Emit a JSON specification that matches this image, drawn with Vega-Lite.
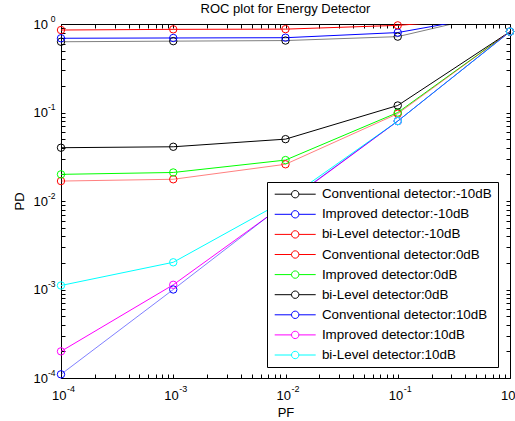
{
  "$schema": "https://vega.github.io/schema/vega-lite/v6.json",
  "width": 449,
  "height": 354,
  "autosize": {"type": "none"},
  "padding": {"left": 61, "top": 24, "right": 5, "bottom": 43},
  "background": "white",
  "title": {"text": "ROC plot for Energy Detector", "font": "Liberation Sans", "fontSize": 13, "fontWeight": "normal", "color": "black", "baseline": "alphabetic", "offset": -12, "anchor": "middle"},
  "config": {
    "view": {"stroke": "black", "strokeWidth": 1},
    "axis": {"grid": false, "domain": false, "tickColor": "black", "labelColor": "black", "titleColor": "black", "labelFont": "Liberation Sans", "titleFont": "Liberation Sans", "labelFontSize": 13, "titleFontSize": 13, "titleFontWeight": "normal", "labelOverlap": false, "labelFlush": false, "labelBound": false},
    "legend": {"labelFont": "Liberation Sans", "labelFontSize": 13.4, "labelColor": "black"}
  },
  "data": {"values": [
    {"s": "Conventional detector:-10dB", "pf": 0.0001, "pd": 0.63},
    {"s": "Conventional detector:-10dB", "pf": 0.001, "pd": 0.64},
    {"s": "Conventional detector:-10dB", "pf": 0.01, "pd": 0.65},
    {"s": "Conventional detector:-10dB", "pf": 0.1, "pd": 0.72},
    {"s": "Conventional detector:-10dB", "pf": 1, "pd": 1.42},
    {"s": "Improved detector:-10dB", "pf": 0.0001, "pd": 0.69},
    {"s": "Improved detector:-10dB", "pf": 0.001, "pd": 0.695},
    {"s": "Improved detector:-10dB", "pf": 0.01, "pd": 0.70},
    {"s": "Improved detector:-10dB", "pf": 0.1, "pd": 0.80},
    {"s": "Improved detector:-10dB", "pf": 1, "pd": 1.35},
    {"s": "bi-Level detector:-10dB", "pf": 0.0001, "pd": 0.855},
    {"s": "bi-Level detector:-10dB", "pf": 0.001, "pd": 0.87},
    {"s": "bi-Level detector:-10dB", "pf": 0.01, "pd": 0.875},
    {"s": "bi-Level detector:-10dB", "pf": 0.1, "pd": 0.965},
    {"s": "bi-Level detector:-10dB", "pf": 1, "pd": 1.2},
    {"s": "Conventional detector:0dB", "pf": 0.0001, "pd": 0.0168},
    {"s": "Conventional detector:0dB", "pf": 0.001, "pd": 0.0176},
    {"s": "Conventional detector:0dB", "pf": 0.01, "pd": 0.026},
    {"s": "Conventional detector:0dB", "pf": 0.1, "pd": 0.097},
    {"s": "Conventional detector:0dB", "pf": 1, "pd": 0.82},
    {"s": "Improved detector:0dB", "pf": 0.0001, "pd": 0.020},
    {"s": "Improved detector:0dB", "pf": 0.001, "pd": 0.021},
    {"s": "Improved detector:0dB", "pf": 0.01, "pd": 0.029},
    {"s": "Improved detector:0dB", "pf": 0.1, "pd": 0.10},
    {"s": "Improved detector:0dB", "pf": 1, "pd": 0.82},
    {"s": "bi-Level detector:0dB", "pf": 0.0001, "pd": 0.040},
    {"s": "bi-Level detector:0dB", "pf": 0.001, "pd": 0.041},
    {"s": "bi-Level detector:0dB", "pf": 0.01, "pd": 0.050},
    {"s": "bi-Level detector:0dB", "pf": 0.1, "pd": 0.12},
    {"s": "bi-Level detector:0dB", "pf": 1, "pd": 0.82},
    {"s": "Conventional detector:10dB", "pf": 0.0001, "pd": 0.00011},
    {"s": "Conventional detector:10dB", "pf": 0.001, "pd": 0.001},
    {"s": "Conventional detector:10dB", "pf": 0.01, "pd": 0.0095},
    {"s": "Conventional detector:10dB", "pf": 0.1, "pd": 0.08},
    {"s": "Conventional detector:10dB", "pf": 1, "pd": 0.82},
    {"s": "Improved detector:10dB", "pf": 0.0001, "pd": 0.0002},
    {"s": "Improved detector:10dB", "pf": 0.001, "pd": 0.00113},
    {"s": "Improved detector:10dB", "pf": 0.01, "pd": 0.0093},
    {"s": "Improved detector:10dB", "pf": 0.1, "pd": 0.08},
    {"s": "Improved detector:10dB", "pf": 1, "pd": 0.82},
    {"s": "bi-Level detector:10dB", "pf": 0.0001, "pd": 0.00111},
    {"s": "bi-Level detector:10dB", "pf": 0.001, "pd": 0.00203},
    {"s": "bi-Level detector:10dB", "pf": 0.01, "pd": 0.0102},
    {"s": "bi-Level detector:10dB", "pf": 0.1, "pd": 0.08},
    {"s": "bi-Level detector:10dB", "pf": 1, "pd": 0.82}
  ]},
  "resolve": {"axis": {"x": "independent", "y": "independent"}},
  "layer": [
    {
      "transform": [{"filter": "indexof(datum.s, 'Conventional') != 0"}],
      "mark": {"type": "line", "clip": true, "strokeWidth": 1},
      "encoding": {
        "x": {"field": "pf", "type": "quantitative", "title": "PF",
          "scale": {"type": "log", "domain": [0.0001, 1], "nice": false},
          "axis": {"orient": "bottom", "ticks": false,
            "values": [0.0001, 0.001, 0.01, 0.1, 1],
            "labelExpr": "'10'",
            "labelAlign": "right", "labelOffset": 5, "labelBaseline": "alphabetic", "labelPadding": 21,
            "titleBaseline": "alphabetic", "titleY": 38}},
        "y": {"field": "pd", "type": "quantitative", "title": "PD",
          "scale": {"type": "log", "domain": [0.0001, 1], "nice": false},
          "axis": {"orient": "left", "ticks": false,
            "values": [0.0001, 0.001, 0.01, 0.1, 1],
            "labelExpr": "'10'",
            "labelAlign": "right", "labelPadding": 13.5, "labelBaseline": "alphabetic", "labelOffset": 4.2,
            "titleX": -38, "titleY": 177, "titleBaseline": "alphabetic"}},
        "color": {"field": "s", "type": "nominal",
          "scale": {"domain": ["Conventional detector:-10dB","Improved detector:-10dB","bi-Level detector:-10dB","Conventional detector:0dB","Improved detector:0dB","bi-Level detector:0dB","Conventional detector:10dB","Improved detector:10dB","bi-Level detector:10dB"],
                    "range": ["#000000","#0000ff","#ff0000","#ff0000","#00ff00","#000000","#0000ff","#ff00ff","#00ffff"]},
          "legend": {"orient": "none", "legendX": 206, "legendY": 158, "title": null,
            "strokeColor": "black", "fillColor": "white", "padding": 5.5, "cornerRadius": 0,
            "symbolType": "M-4,0H-0.72M0.72,0H4M0.72,0A0.72,0.72 0 1,1 -0.72,0A0.72,0.72 0 1,1 0.72,0",
            "symbolSize": 105, "symbolStrokeWidth": 1, "symbolFillColor": "transparent", "symbolOpacity": 1,
            "symbolOffset": 16, "labelOffset": 20, "rowPadding": 5.1, "labelLimit": 400}}
      }
    },
    {
      "transform": [{"filter": "indexof(datum.s, 'Conventional') == 0"}],
      "mark": {"type": "line", "clip": true, "strokeWidth": 1, "strokeOpacity": 0.5},
      "encoding": {
        "x": {"field": "pf", "type": "quantitative",
          "scale": {"type": "log", "domain": [0.0001, 1], "nice": false},
          "axis": {"orient": "bottom", "title": null, "tickSize": -4,
            "values": [0.0001,0.0002,0.0003,0.0004,0.0005,0.0006,0.0007,0.0008,0.0009,0.001,0.002,0.003,0.004,0.005,0.006,0.007,0.008,0.009,0.01,0.02,0.03,0.04,0.05,0.06,0.07,0.08,0.09,0.1,0.2,0.3,0.4,0.5,0.6,0.7,0.8,0.9,1],
            "labelExpr": "datum.value == 1 ? '0' : datum.value == 0.1 ? '-1' : datum.value == 0.01 ? '-2' : datum.value == 0.001 ? '-3' : datum.value == 0.0001 ? '-4' : ''",
            "labelFontSize": 9, "labelAlign": "left", "labelOffset": 5.5, "labelBaseline": "alphabetic", "labelPadding": 17}},
        "y": {"field": "pd", "type": "quantitative",
          "scale": {"type": "log", "domain": [0.0001, 1], "nice": false},
          "axis": {"orient": "left", "title": null, "tickSize": -4,
            "values": [0.0001,0.0002,0.0003,0.0004,0.0005,0.0006,0.0007,0.0008,0.0009,0.001,0.002,0.003,0.004,0.005,0.006,0.007,0.008,0.009,0.01,0.02,0.03,0.04,0.05,0.06,0.07,0.08,0.09,0.1,0.2,0.3,0.4,0.5,0.6,0.7,0.8,0.9,1],
            "labelExpr": "datum.value == 1 ? '0' : datum.value == 0.1 ? '-1' : datum.value == 0.01 ? '-2' : datum.value == 0.001 ? '-3' : datum.value == 0.0001 ? '-4' : ''",
            "labelFontSize": 8.5, "labelAlign": "right", "labelPadding": 10, "labelBaseline": "alphabetic", "labelOffset": -3}},
        "color": {"field": "s", "type": "nominal",
          "scale": {"domain": ["Conventional detector:-10dB","Improved detector:-10dB","bi-Level detector:-10dB","Conventional detector:0dB","Improved detector:0dB","bi-Level detector:0dB","Conventional detector:10dB","Improved detector:10dB","bi-Level detector:10dB"],
                    "range": ["#000000","#0000ff","#ff0000","#ff0000","#00ff00","#000000","#0000ff","#ff00ff","#00ffff"]}}
      }
    },
    {
      "transform": [{"filter": "datum.pd <= 1"}],
      "mark": {"type": "point", "shape": "circle", "filled": false, "size": 55, "strokeWidth": 1, "opacity": 1},
      "encoding": {
        "x": {"field": "pf", "type": "quantitative",
          "scale": {"type": "log", "domain": [0.0001, 1], "nice": false},
          "axis": {"orient": "top", "labels": false, "title": null, "tickSize": -4,
            "values": [0.0001,0.0002,0.0003,0.0004,0.0005,0.0006,0.0007,0.0008,0.0009,0.001,0.002,0.003,0.004,0.005,0.006,0.007,0.008,0.009,0.01,0.02,0.03,0.04,0.05,0.06,0.07,0.08,0.09,0.1,0.2,0.3,0.4,0.5,0.6,0.7,0.8,0.9,1]}},
        "y": {"field": "pd", "type": "quantitative",
          "scale": {"type": "log", "domain": [0.0001, 1], "nice": false},
          "axis": {"orient": "right", "labels": false, "title": null, "tickSize": -4,
            "values": [0.0001,0.0002,0.0003,0.0004,0.0005,0.0006,0.0007,0.0008,0.0009,0.001,0.002,0.003,0.004,0.005,0.006,0.007,0.008,0.009,0.01,0.02,0.03,0.04,0.05,0.06,0.07,0.08,0.09,0.1,0.2,0.3,0.4,0.5,0.6,0.7,0.8,0.9,1]}},
        "color": {"field": "s", "type": "nominal",
          "scale": {"domain": ["Conventional detector:-10dB","Improved detector:-10dB","bi-Level detector:-10dB","Conventional detector:0dB","Improved detector:0dB","bi-Level detector:0dB","Conventional detector:10dB","Improved detector:10dB","bi-Level detector:10dB"],
                    "range": ["#000000","#0000ff","#ff0000","#ff0000","#00ff00","#000000","#0000ff","#ff00ff","#00ffff"]}}
      }
    }
  ]
}
